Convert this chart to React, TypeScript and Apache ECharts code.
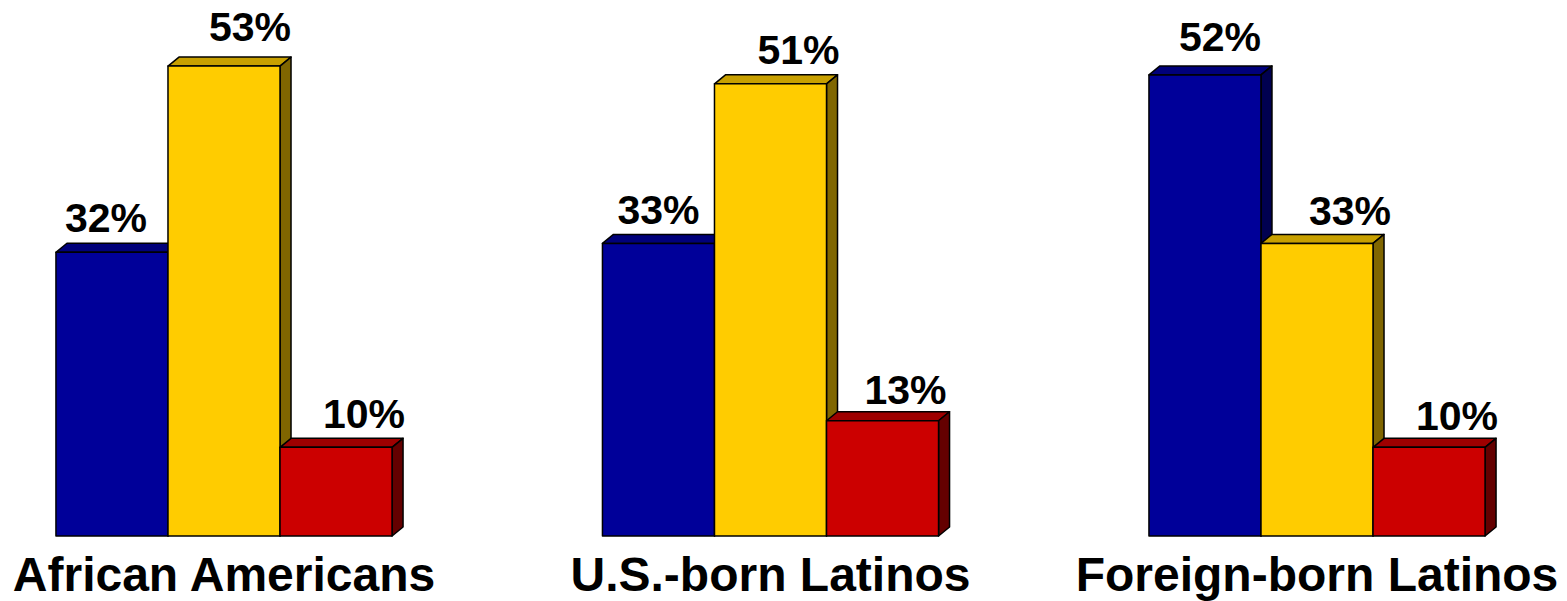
import React, { useEffect, useRef } from "react";
import * as echarts from "echarts";

// ---- data ----
const categories = ["African Americans", "U.S.-born Latinos", "Foreign-born Latinos"];
const seriesNames = ["Series 1", "Series 2", "Series 3"];
const blueValues = [32, 33, 52];
const yellowValues = [53, 51, 33];
const redValues = [10, 13, 10];

// ---- styling ----
const FONT = '"Liberation Sans", Arial, Helvetica, sans-serif';
const BAR_FRAC = 0.205; // bar width as a fraction of category band
const DEPTH_X = 11;
const DEPTH_Y = 9;
const LABEL_DESCENT = 6; // distance from text box bottom to the digits' baseline
const palettes = [
  { front: "#000099", top: "#00007a", side: "#000050" },
  { front: "#ffcc00", top: "#c8a000", side: "#806600" },
  { front: "#cc0000", top: "#9e0000", side: "#640000" },
];
// label nudges (px) relative to the bar's centre / top, per series per category
const labelShiftX = [
  [-6, 0, 15],
  [26, 28, 33],
  [28, 23, 28],
];
const labelGap = [
  [11, 10, 14],
  [16, 10, 9],
  [10, 7, 8],
];

function makeSeries(values: number[], sIdx: number) {
  const pal = palettes[sIdx];
  return {
    type: "custom",
    name: seriesNames[sIdx],
    clip: false,
    data: values.map((v, i) => [i, v]),
    renderItem: (params: any, api: any) => {
      const ci = api.value(0) as number;
      const v = api.value(1) as number;
      const base = api.coord([ci, 0]);
      const topPt = api.coord([ci, v]);
      const band = api.size([1, 0])[0];
      const w = band * BAR_FRAC;
      const cx = base[0];
      const x0 = cx - 1.5 * w + sIdx * w;
      const x1 = x0 + w;
      const yb = base[1];
      const yt = topPt[1];
      const stroke = { stroke: "#000", lineWidth: 1.5, lineJoin: "round" };
      return {
        type: "group",
        children: [
          {
            type: "polygon",
            shape: { points: [[x0, yt], [x0 + DEPTH_X, yt - DEPTH_Y], [x1 + DEPTH_X, yt - DEPTH_Y], [x1, yt]] },
            style: { fill: pal.top, ...stroke },
          },
          {
            type: "polygon",
            shape: { points: [[x1, yt], [x1 + DEPTH_X, yt - DEPTH_Y], [x1 + DEPTH_X, yb - DEPTH_Y], [x1, yb]] },
            style: { fill: pal.side, ...stroke },
          },
          {
            type: "rect",
            shape: { x: x0, y: yt, width: w, height: yb - yt },
            style: { fill: pal.front, ...stroke },
          },
          {
            type: "text",
            z2: 100,
            style: {
              text: v + "%",
              x: (x0 + x1) / 2 + labelShiftX[sIdx][ci],
              y: yt - DEPTH_Y - labelGap[sIdx][ci] + LABEL_DESCENT,
              align: "center",
              verticalAlign: "bottom",
              fill: "#000",
              font: `bold 41px ${FONT}`,
            },
          },
        ],
      };
    },
  };
}

export default function App() {
  const ref = useRef<HTMLDivElement>(null);
  useEffect(() => {
    if (!ref.current) return;
    const chart = echarts.init(ref.current, undefined, { renderer: "svg" });
    chart.setOption({
      animation: false,
      backgroundColor: "#ffffff",
      grid: { left: 224, right: 250, top: 4, bottom: 65, outerBoundsMode: "none" },
      xAxis: {
        type: "category",
        data: categories,
        boundaryGap: false,
        axisLine: { show: false },
        axisTick: { show: false },
        splitLine: { show: false },
        axisLabel: {
          interval: 0,
          margin: 14,
          color: "#000",
          fontSize: 48,
          fontWeight: "bold",
          fontFamily: FONT,
        },
      },
      yAxis: {
        type: "value",
        min: 0,
        max: 60,
        show: false,
        splitLine: { show: false },
      },
      series: [makeSeries(blueValues, 0), makeSeries(yellowValues, 1), makeSeries(redValues, 2)],
    });
    return () => chart.dispose();
  }, []);
  return (
    <div
      ref={ref}
      style={{ position: "fixed", left: 0, top: 0, width: 1567, height: 601 }}
    />
  );
}
